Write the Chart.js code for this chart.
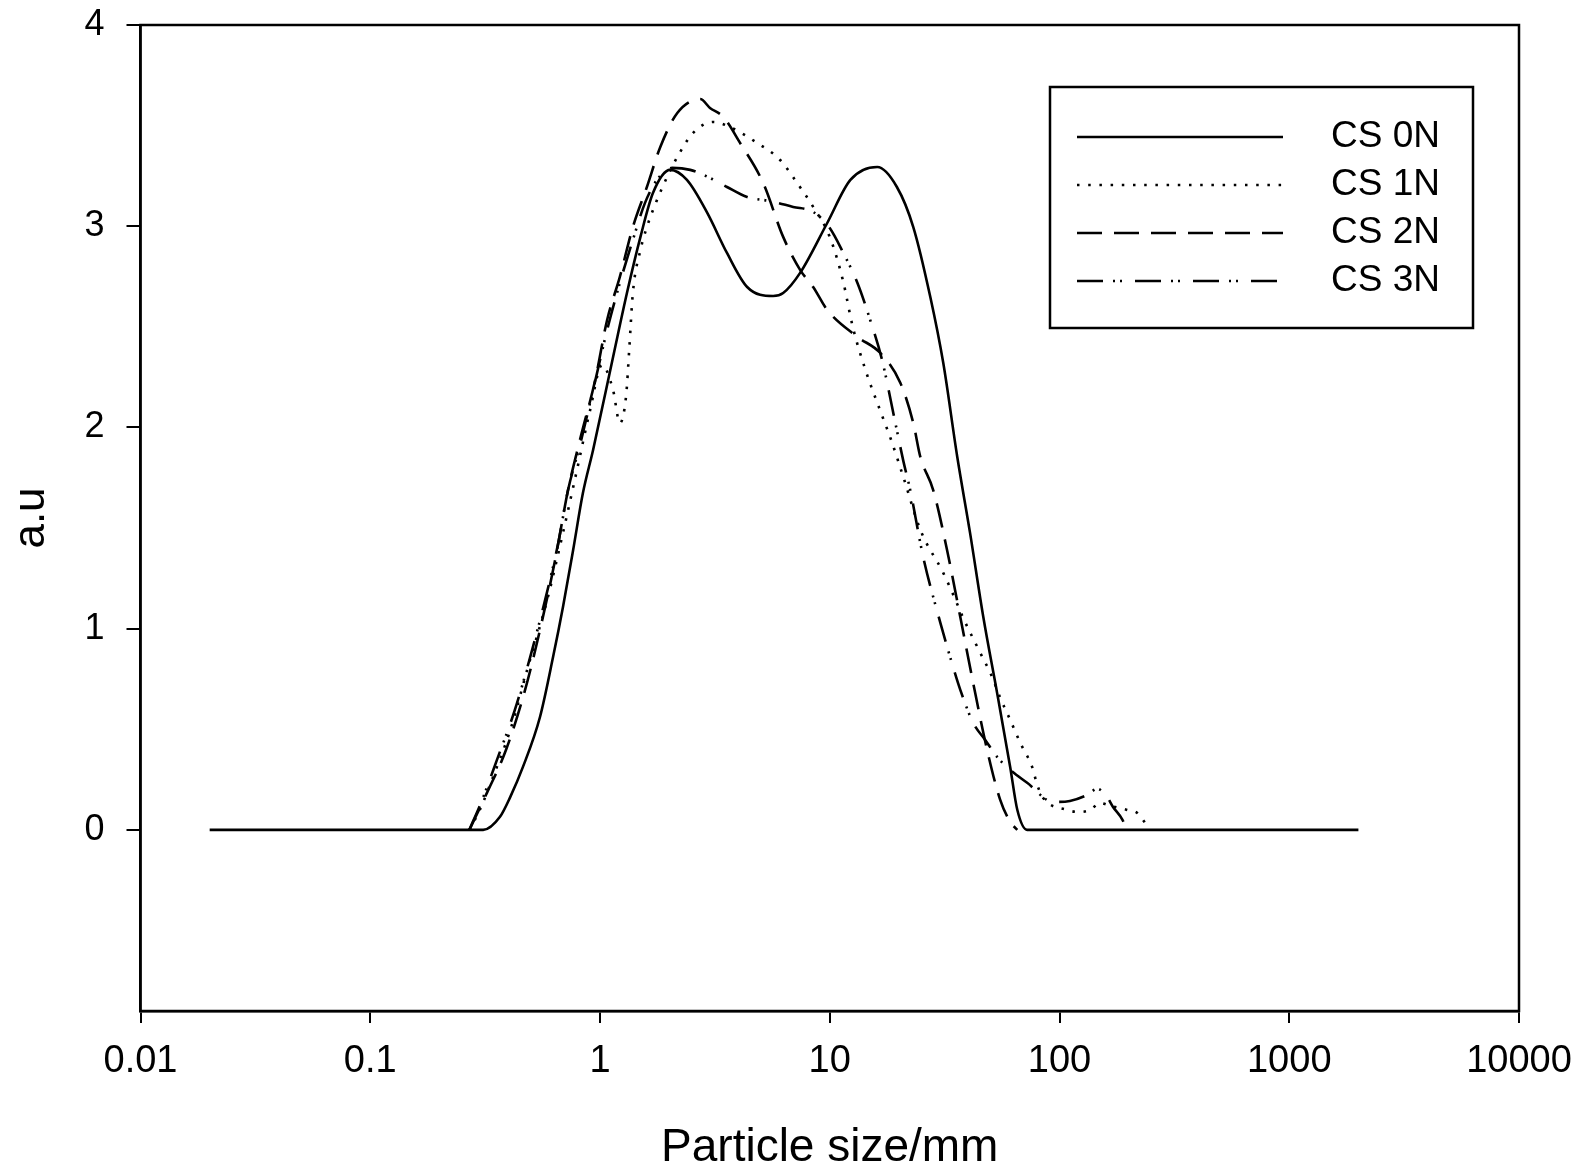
<!DOCTYPE html>
<html>
<head>
<meta charset="utf-8">
<title>Particle size distribution</title>
<script src="https://cdn.jsdelivr.net/npm/chart.js@4/dist/chart.umd.min.js"></script>
<style>
	html, body { margin: 0; padding: 0; background: #fff; }
	#wrap { width: 1576px; height: 1172px; }
</style>
</head>
<body>
<div id="wrap"><canvas id="chart-area" width="1576" height="1172"></canvas></div>
<script>
// values (x = particle size, y = a.u)
var sizes0 = [0.02, 0.31, 0.367, 0.407, 0.462, 0.548, 0.625, 0.69, 0.764, 0.843, 0.933, 1.14, 1.31, 1.5, 1.7, 2.02, 2.39, 2.93, 3.57, 4.37, 5.67, 6.27, 7.43, 9.75, 12.3, 16.1, 19.6, 23.1, 27.4, 31.2, 35.9, 40.8, 46.6, 53.5, 61.0, 65.5, 72.3, 2000];
var cs0 = [0, 0, 0.065, 0.164, 0.313, 0.561, 0.86, 1.108, 1.391, 1.675, 1.888, 2.35, 2.668, 2.947, 3.165, 3.28, 3.23, 3.066, 2.867, 2.698, 2.653, 2.668, 2.768, 3.016, 3.23, 3.294, 3.195, 2.996, 2.648, 2.32, 1.853, 1.476, 1.058, 0.681, 0.313, 0.1, 0, 0];

var sizes1 = [0.27, 0.30, 0.349, 0.407, 0.486, 0.589, 0.69, 0.794, 0.906, 1.02, 1.14, 1.22, 1.30, 1.34, 1.39, 1.5, 1.6, 1.77, 1.96, 2.17, 2.54, 3.11, 3.68, 4.83, 6.08, 7.21, 8.47, 10.0, 11.4, 12.6, 14.3, 16.6, 18.5, 20.9, 24.8, 31.2, 34.5, 38.1, 45.2, 50.9, 55.2, 61.0, 67.5, 76.0, 80.0, 84.9, 108, 121, 136, 150, 166, 197, 218, 241];
var cs1 = [0, 0.10, 0.288, 0.497, 0.81, 1.143, 1.476, 1.789, 2.087, 2.311, 2.186, 2.022, 2.161, 2.385, 2.668, 2.882, 2.996, 3.13, 3.245, 3.344, 3.463, 3.518, 3.493, 3.414, 3.329, 3.215, 3.096, 2.947, 2.733, 2.499, 2.286, 2.082, 1.938, 1.754, 1.491, 1.277, 1.168, 1.053, 0.88, 0.76, 0.656, 0.547, 0.432, 0.313, 0.224, 0.159, 0.099, 0.089, 0.099, 0.134, 0.12, 0.099, 0.084, 0.02];

var sizes2 = [0.27, 0.322, 0.39, 0.472, 0.548, 0.638, 0.726, 0.818, 0.953, 1.074, 1.22, 1.39, 1.6, 1.83, 2.17, 2.73, 3.01, 3.44, 4.07, 5.13, 6.27, 7.43, 8.47, 9.75, 13.2, 16.6, 20.3, 23.1, 24.8, 28.2, 32.4, 37.0, 42.1, 48.4, 55.2, 61.0, 65.5];
var cs2 = [0, 0.184, 0.398, 0.696, 0.994, 1.342, 1.689, 1.938, 2.236, 2.534, 2.748, 2.996, 3.195, 3.394, 3.563, 3.632, 3.588, 3.543, 3.414, 3.215, 2.947, 2.783, 2.698, 2.584, 2.45, 2.37, 2.221, 2.022, 1.853, 1.689, 1.391, 1.058, 0.73, 0.398, 0.149, 0.04, 0];

var sizes3 = [0.27, 0.307, 0.356, 0.426, 0.497, 0.577, 0.658, 0.726, 0.818, 0.933, 1.074, 1.22, 1.39, 1.57, 1.77, 2.06, 2.47, 3.01, 3.57, 4.37, 5.5, 6.93, 8.47, 10.0, 11.4, 13.2, 15.0, 16.9, 19.3, 20.9, 22.4, 25.5, 30.3, 33.4, 37.0, 42.1, 47.5, 53.5, 61.0, 72.3, 94.0, 111, 132, 146, 161, 171, 188, 196];
var cs3 = [0, 0.149, 0.348, 0.596, 0.86, 1.143, 1.426, 1.689, 1.913, 2.186, 2.484, 2.718, 2.932, 3.116, 3.23, 3.29, 3.28, 3.24, 3.195, 3.145, 3.125, 3.096, 3.071, 2.991, 2.872, 2.718, 2.534, 2.335, 2.022, 1.834, 1.689, 1.357, 1.029, 0.86, 0.696, 0.532, 0.447, 0.363, 0.298, 0.234, 0.139, 0.144, 0.174, 0.204, 0.164, 0.114, 0.05, 0];

var seriesNames = ['CS 0N', 'CS 1N', 'CS 2N', 'CS 3N'];
var xTicks = [0.01, 0.1, 1, 10, 100, 1000, 10000];
var yTicks = [0, 1, 2, 3, 4];

var FONT = '"Liberation Sans", Arial, sans-serif';

function toPoints(xs, ys){
	var pts = [];
	for (var i = 0; i < xs.length; i++) {
		pts.push({x: xs[i], y: ys[i]});
	}
	return pts;
}

// line styles: solid, dotted, dashed, dash-dot-dot
var dashes = [[], [2.5, 8.7], [25, 12], [26, 10, 2, 5, 2, 13]];
var allX = [sizes0, sizes1, sizes2, sizes3];
var allY = [cs0, cs1, cs2, cs3];

var datasets = [];
for (var i = 0; i < seriesNames.length; i++) {
	datasets.push({
		label: seriesNames[i],
		data: toPoints(allX[i], allY[i]),
		borderColor: '#000',
		borderWidth: 2.6,
		borderDash: dashes[i],
		pointRadius: 0,
		fill: false,
		cubicInterpolationMode: 'monotone'
	});
}

// white background + closed frame
var frame = {
	id: 'frame',
	beforeDraw: function(chart){
		var c = chart.ctx;
		c.save();
		c.fillStyle = '#fff';
		c.fillRect(0, 0, chart.width, chart.height);
		c.restore();
	},
	afterDraw: function(chart){
		var a = chart.chartArea, c = chart.ctx;
		c.save();
		c.strokeStyle = '#000';
		c.lineWidth = 2.5;
		c.strokeRect(a.left, a.top, a.right - a.left, a.bottom - a.top);
		c.restore();
	}
};

// boxed legend in the upper right
var boxLegend = {
	id: 'boxLegend',
	afterDatasetsDraw: function(chart){
		var c = chart.ctx;
		c.save();
		c.strokeStyle = '#000';
		c.lineWidth = 2.5;
		c.strokeRect(1050, 87, 423, 241);
		chart.data.datasets.forEach(function(ds, i){
			var y = 137 + i * 48;
			c.setLineDash(ds.borderDash || []);
			c.lineWidth = 2.5;
			c.beginPath();
			c.moveTo(1077, y);
			c.lineTo(1283, y);
			c.stroke();
			c.setLineDash([]);
			c.fillStyle = '#000';
			c.font = '37px ' + FONT;
			c.textAlign = 'left';
			c.textBaseline = 'middle';
			c.fillText(ds.label, 1331, y);
		});
		c.restore();
	}
};

var config = {
	type: 'line',
	data: { datasets: datasets },
	options: {
		responsive: false,
		animation: false,
		layout: { padding: { top: 25, right: 57, bottom: 0, left: 0 } },
		plugins: {
			legend: { display: false },
			tooltip: { enabled: false }
		},
		scales: {
			x: {
				type: 'logarithmic',
				min: 0.01,
				max: 10000,
				afterBuildTicks: function(scale){
					scale.ticks = xTicks.map(function(v){ return {value: v}; });
				},
				afterFit: function(scale){ scale.height = 161; },
				ticks: {
					color: '#000',
					padding: 0,
					maxRotation: 0,
					autoSkip: false,
					// tall line box pushes the labels down without adding edge padding
					font: { family: FONT, size: 38, lineHeight: 2.05 },
					callback: function(v){ return String(v); }
				},
				grid: { drawOnChartArea: false, drawTicks: true, tickLength: 12, lineWidth: 2, color: '#000' },
				border: { display: true, color: '#000', width: 2.5 },
				title: {
					display: true,
					text: 'Particle size/mm',
					color: '#000',
					font: { family: FONT, size: 46 },
					padding: { top: 0, bottom: -4 }
				}
			},
			y: {
				type: 'linear',
				min: -0.9,
				max: 4,
				afterBuildTicks: function(scale){
					scale.ticks = yTicks.map(function(v){ return {value: v}; });
				},
				afterFit: function(scale){ scale.width = 140.5; },
				ticks: {
					color: '#000',
					padding: 22,
					font: { family: FONT, size: 36, lineHeight: 0.1 },
					callback: function(v){ return String(v); }
				},
				grid: { drawOnChartArea: false, drawTicks: true, tickLength: 14, lineWidth: 2, color: '#000' },
				border: { display: true, color: '#000', width: 2.5 },
				title: {
					display: true,
					text: 'a.u',
					color: '#000',
					font: { family: FONT, size: 44 },
					padding: { top: 5, bottom: 0 }
				}
			}
		}
	},
	plugins: [frame, boxLegend]
};

var ctx = document.getElementById('chart-area').getContext('2d');
window.myChart = new Chart(ctx, config);
</script>
</body>
</html>
